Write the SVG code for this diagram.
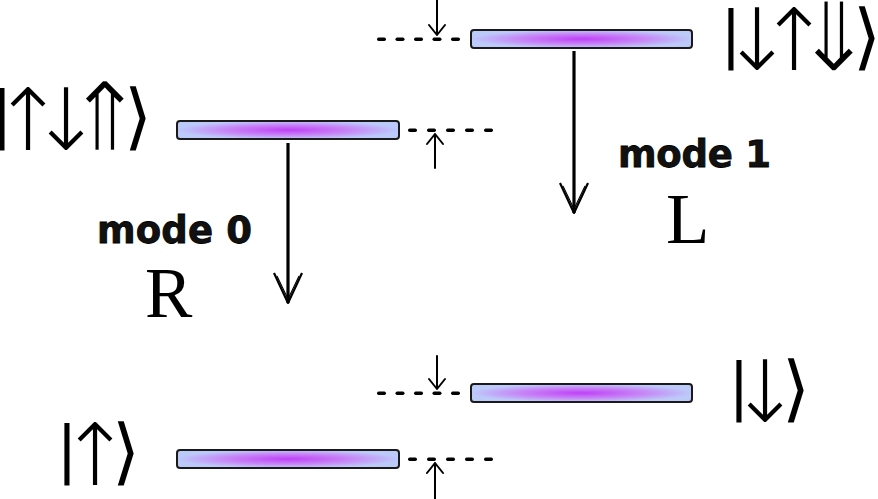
<svg xmlns="http://www.w3.org/2000/svg" width="878" height="499" viewBox="0 0 878 499">
<defs>
<radialGradient id="barGrad" cx="0.5" cy="0.5" r="0.5">
<stop offset="0" stop-color="#c040f8"/>
<stop offset="0.55" stop-color="#c784f6"/>
<stop offset="1" stop-color="#bccafa"/>
</radialGradient>
<marker id="bigHead" viewBox="0 0 32 32" refX="31" refY="16" markerWidth="32" markerHeight="32" markerUnits="userSpaceOnUse" orient="auto">
<path d="M1 2 L31 16 L1 30" fill="none" stroke="#000" stroke-width="2.2" stroke-linejoin="round"/>
<path d="M4 5 L27 16 L4 27" fill="none" stroke="#000" stroke-width="1.1"/>
</marker>
</defs>
<style>
.bar{fill:url(#barGrad);stroke:#1a1a1a;stroke-width:2}
.small{stroke:#000;stroke-width:2;fill:none;stroke-linecap:round;stroke-linejoin:round}
.main{stroke:#000;stroke-width:3.2;fill:none;marker-end:url(#bigHead)}
.ket{font-family:"DejaVu Sans","Liberation Sans",sans-serif;font-size:62px;fill:#000;text-anchor:middle}
.ar{font-size:86px;font-weight:200}
.dar{font-size:97px;stroke:#fff;stroke-width:2.4}
.br{font-size:72px;font-weight:200}
.mode{font-family:"DejaVu Sans","Liberation Sans",sans-serif;font-weight:bold;font-size:37px;fill:#111;stroke:#000;stroke-width:0.8}
.lr{font-family:"Liberation Serif","Times New Roman",serif;font-size:71px;fill:#000}
.dots rect{fill:#000}
</style>
<g id="level-upup">
<rect class="bar" x="177" y="121" width="222" height="18" rx="3"/>
<text class="ket"><tspan x="2" y="135">|</tspan><tspan class="ar" x="28" y="150">↑</tspan><tspan class="ar" x="66" y="150">↓</tspan><tspan class="dar" x="105" y="151">⇑</tspan><tspan class="br" x="138" y="141">⟩</tspan></text>
</g>
<g id="level-dupdn">
<rect class="bar" x="471" y="30" width="221" height="18" rx="3"/>
<text class="ket"><tspan x="731" y="55">|</tspan><tspan class="ar" x="757" y="70">↓</tspan><tspan class="ar" x="794" y="70">↑</tspan><tspan class="dar" x="834" y="71">⇓</tspan><tspan class="br" x="867" y="61">⟩</tspan></text>
</g>
<g id="level-up">
<rect class="bar" x="177" y="450" width="222" height="18" rx="3"/>
<text class="ket"><tspan x="67" y="470">|</tspan><tspan class="ar" x="95" y="485">↑</tspan><tspan class="br" x="126" y="476">⟩</tspan></text>
</g>
<g id="level-down">
<rect class="bar" x="471" y="384" width="221" height="18" rx="3"/>
<text class="ket"><tspan x="739" y="407">|</tspan><tspan class="ar" x="765" y="422">↓</tspan><tspan class="br" x="796" y="413">⟩</tspan></text>
</g>
<g id="label-mode0">
<text class="mode" x="97" y="243" textLength="155">mode 0</text>
<text class="lr" x="145" y="317">R</text>
</g>
<g id="label-mode1">
<text class="mode" x="618" y="167" textLength="153">mode 1</text>
<text class="lr" x="666" y="243">L</text>
</g>
<g id="connectors">
<line class="main" x1="288" y1="143" x2="288" y2="303"/>
<line class="main" x1="574" y1="51" x2="574" y2="213"/>
<g class="dots">
<rect x="377" y="37.5" width="9" height="3.5" rx="1.7"/>
<rect x="395.5" y="37.5" width="9" height="3.5" rx="1.7"/>
<rect x="414" y="37.5" width="9" height="3.5" rx="1.7"/>
<rect x="432.5" y="37.5" width="9" height="3.5" rx="1.7"/>
<rect x="451" y="37.5" width="9" height="3.5" rx="1.7"/>
<rect x="377" y="391.5" width="9" height="3.5" rx="1.7"/>
<rect x="395.5" y="391.5" width="9" height="3.5" rx="1.7"/>
<rect x="414" y="391.5" width="9" height="3.5" rx="1.7"/>
<rect x="432.5" y="391.5" width="9" height="3.5" rx="1.7"/>
<rect x="451" y="391.5" width="9" height="3.5" rx="1.7"/>
<rect x="408" y="128.5" width="9" height="3.5" rx="1.7"/>
<rect x="427" y="128.5" width="9" height="3.5" rx="1.7"/>
<rect x="446" y="128.5" width="9" height="3.5" rx="1.7"/>
<rect x="465" y="128.5" width="9" height="3.5" rx="1.7"/>
<rect x="484" y="128.5" width="9" height="3.5" rx="1.7"/>
<rect x="408" y="457.5" width="9" height="3.5" rx="1.7"/>
<rect x="427" y="457.5" width="9" height="3.5" rx="1.7"/>
<rect x="446" y="457.5" width="9" height="3.5" rx="1.7"/>
<rect x="465" y="457.5" width="9" height="3.5" rx="1.7"/>
<rect x="484" y="457.5" width="9" height="3.5" rx="1.7"/>
</g>
<path class="small" d="M437 0 V35 M429 25 L437 35 L445 25"/>
<path class="small" d="M437 356 V389 M429 379 L437 389 L445 379"/>
<path class="small" d="M435 168 V134 M427 144 L435 134 L443 144"/>
<path class="small" d="M435 499 V463 M427 473 L435 463 L443 473"/>
</g>
</svg>
